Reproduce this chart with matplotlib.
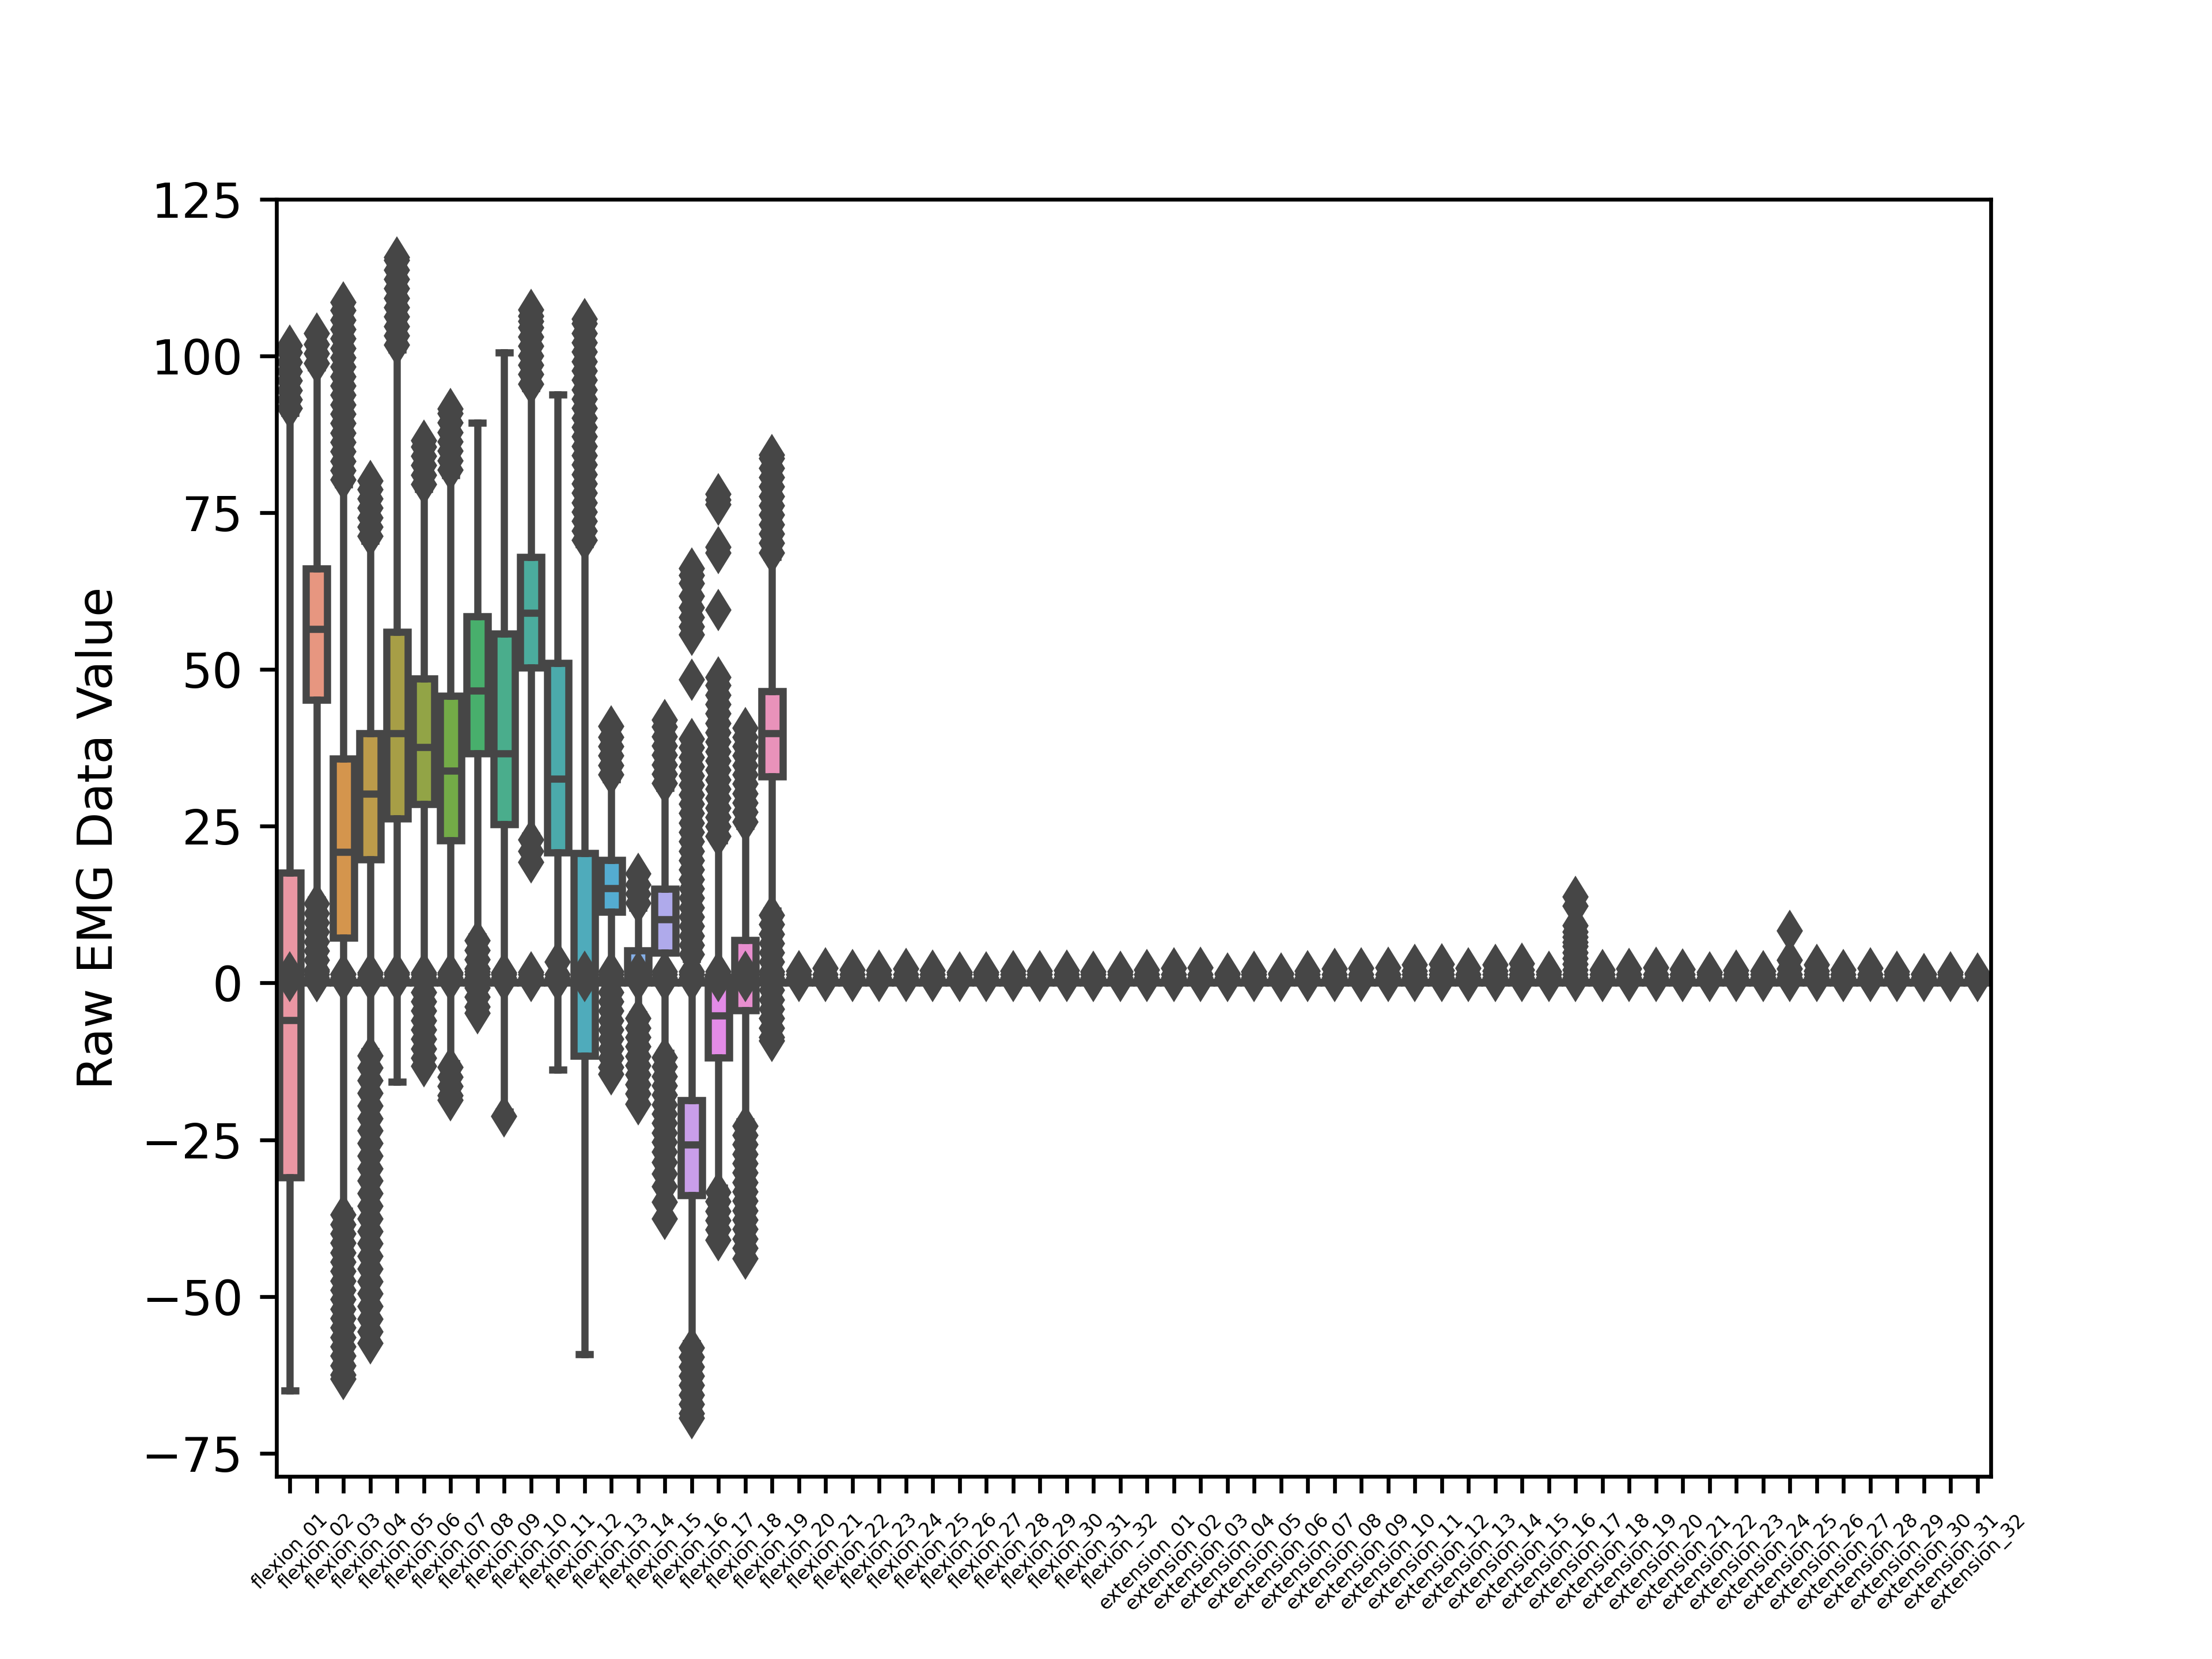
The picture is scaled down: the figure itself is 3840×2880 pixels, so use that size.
import colorsys
import matplotlib
matplotlib.use("Agg")
import matplotlib.pyplot as plt
import seaborn as sns

# ---------------- data ----------------
categories = [f"flexion_{i:02d}" for i in range(1, 33)] + [f"extension_{i:02d}" for i in range(1, 33)]

# Raw EMG layer (first 19 channels)
raw_q1 = [-31.0, 45.1, 7.2, 19.7, 26.2, 28.5, 22.7, 36.6, 25.3, 50.3,
          20.8, -11.6, 11.3, 0.5, 4.8, -33.9, -11.9, -4.4, 32.9]
raw_med = [-5.9, 56.4, 20.9, 30.2, 39.8, 37.6, 33.8, 46.6, 36.6, 59.0,
           32.6, 1.0, 15.1, 2.5, 10.1, -25.8, -5.2, 1.0, 39.8]
raw_q3 = [17.6, 66.1, 35.8, 39.8, 56.0, 48.5, 45.8, 58.5, 55.7, 67.9,
          51.0, 20.7, 19.6, 5.2, 15.0, -18.7, 1.0, 6.8, 46.5]
raw_lo = [-65.0, 13.3, -36.3, -10.9, -15.8, -0.8, -12.8, 7.4, -20.5, 23.5,
          -13.8, -59.2, 0.5, -5.0, -11.2, -57.5, -32.7, -22.1, 11.5]
raw_hi = [90.9, 98.1, 79.5, 70.5, 101.0, 78.8, 81.0, 89.3, 100.5, 94.8,
          93.8, 69.9, 32.5, 12.0, 31.1, 3.8, 22.7, 25.0, 67.9]
raw_fliers = [
    [91.6, 93.0, 94.5, 96.0, 97.5, 99.0, 100.5, 101.6],
    [98.8, 100.3, 101.8, 103.6, 12.6, 11.1, 9.6, 8.1, 6.6, 5.1, 3.6, 2.1, 0.3],
    [80.2, 81.7, 83.2, 84.7, 86.2, 87.7, 89.2, 90.7, 92.2, 93.7, 95.2, 96.7, 98.2,
     99.7, 101.2, 102.7, 104.2, 105.7, 107.2, 108.5,
     -37.0, -38.5, -40.0, -41.5, -43.0, -44.5, -46.0, -47.5, -49.0, -50.5, -52.0,
     -53.5, -55.0, -56.5, -58.0, -59.5, -61.0, -62.5, -63.2],
    [71.2, 72.7, 74.2, 75.7, 77.2, 78.7, 80.0,
     -11.6, -13.6, -15.6, -17.6, -19.6, -21.6, -23.6, -25.6, -27.6, -29.6, -31.6,
     -33.6, -35.6, -37.6, -39.6, -41.6, -43.6, -45.6, -47.6, -49.6, -51.6, -53.6,
     -55.6, -57.5],
    [101.7, 103.2, 104.7, 106.2, 107.7, 109.2, 110.7, 112.2, 113.7, 115.2, 115.7],
    [79.5, 81.0, 82.5, 84.0, 85.5, 86.5,
     -1.5, -3.0, -4.5, -6.0, -7.5, -9.0, -10.5, -12.0, -13.3],
    [81.8, 83.3, 84.8, 86.3, 87.8, 89.3, 90.8, 91.5, -13.5, -15.0, -16.5, -18.0, -18.7],
    [6.7, 5.2, 3.7, 2.2, 0.7, -0.8, -2.3, -3.8, -4.8],
    [-21.3],
    [95.5, 97.0, 98.5, 100.0, 101.5, 103.0, 104.5, 105.5, 106.3, 107.3, 22.8, 21.0, 19.2],
    [],
    [70.6, 72.1, 73.6, 75.1, 76.6, 78.1, 79.6, 81.1, 82.6, 84.1, 85.6, 87.1, 88.6,
     90.1, 91.6, 93.1, 94.6, 96.1, 97.6, 99.1, 100.6, 102.1, 103.6, 105.1, 105.9],
    [33.2, 34.7, 36.2, 37.7, 39.2, 40.9,
     -1.5, -3.0, -4.5, -6.0, -7.5, -9.0, -10.5, -12.0, -13.5, -14.6],
    [12.7, 14.2, 15.7, 17.4, -5.7, -7.2, -8.7, -10.2, -11.7, -13.2, -14.7, -16.2, -17.7, -19.3],
    [31.8, 33.3, 34.8, 36.3, 37.8, 39.3, 40.8, 41.9,
     -11.9, -13.4, -14.9, -16.4, -17.9, -19.4, -20.9, -22.4, -23.9, -25.4, -27.0,
     -28.6, -30.5, -32.5, -35.0, -37.6],
    [4.5, 6.0, 7.5, 9.0, 10.5, 12.0, 13.5, 15.0, 16.5, 18.0, 19.5, 21.0, 22.5, 24.0,
     25.5, 27.0, 28.5, 30.0, 31.5, 33.0, 34.5, 36.0, 37.5, 38.9, 48.4,
     55.5, 56.8, 58.3, 59.8, 61.7, 63.7, 65.0, 66.1,
     -58.2, -59.7, -61.2, -62.7, -64.2, -65.7, -67.2, -68.7, -69.4],
    [23.4, 24.9, 26.4, 27.9, 29.4, 30.9, 32.4, 33.9, 35.4, 36.9, 38.4, 39.9, 41.4,
     42.9, 44.4, 45.9, 47.4, 48.7, 59.5, 68.6, 69.5, 76.3, 77.0, 77.9,
     -33.4, -34.9, -36.4, -37.9, -39.4, -41.0],
    [25.7, 27.2, 28.7, 30.2, 31.7, 33.2, 34.7, 36.2, 37.7, 39.2, 40.6,
     -22.8, -24.3, -25.8, -27.3, -28.8, -30.3, -31.8, -33.3, -34.8, -36.3, -37.8,
     -39.3, -40.8, -42.3, -44.0],
    [68.6, 70.1, 71.6, 73.1, 74.6, 76.1, 77.6, 79.1, 80.6, 82.1, 83.6, 84.2,
     10.8, 9.3, 7.8, 6.3, 4.8, 3.3, 1.8, 0.3, -1.2, -2.7, -4.2, -5.7, -7.2, -8.7, -9.2],
]

# Normalised layer (all 64 channels, values near 0)
near_q1 = [0.05] * 64
near_med = [0.1] * 64
near_q3 = [0.15] * 64
near_low_fliers = [0.3, 0.8, 1.3]
near_top = [1.7, 1.8, 1.4, 1.6, 1.6, 1.6, 1.6, 1.8, 1.6, 1.7,
            3.3, 1.8, 1.8, 1.8, 1.8, 1.8, 1.8, 1.8, 1.8, 1.85,
            2.3, 2.05, 1.95, 2.2, 2.0, 1.65, 1.65, 1.9, 1.9, 2.0,
            1.8, 1.8, 2.05, 2.3, 2.4, 1.55, 1.75, 1.5, 1.9, 2.2,
            2.3, 2.4, 2.9, 3.0, 2.3, 2.85, 3.1, 1.8, 13.7, 2.1,
            2.2, 2.45, 2.15, 1.65, 2.0, 1.85, 8.3, 2.9, 2.1, 2.3,
            1.8, 1.45, 1.7, 1.55]
near_extra = {42: [1.9], 43: [2.0], 45: [1.9], 46: [2.1], 57: [1.9],
              48: [12.3, 9.1, 8.1, 7.3, 6.5, 5.8, 4.8, 3.9, 3.0, 2.1],
              56: [3.6, 2.2]}

# ---------------- styling ----------------
raw_colors = [sns.desaturate(c, 0.75) for c in sns.husl_palette(len(raw_q1), l=0.7)]
near_colors = [sns.desaturate(c, 0.75) for c in sns.husl_palette(len(categories), l=0.7)]
lum = min(colorsys.rgb_to_hls(*c)[1] for c in raw_colors) * 0.6
gray = matplotlib.colors.rgb2hex((lum, lum, lum))
lw = 1.5


def draw_layer(ax, stats, colors):
    art = ax.bxp(stats, positions=list(range(len(stats))), widths=0.8,
                 patch_artist=True, manage_ticks=False,
                 boxprops=dict(edgecolor=gray, linewidth=lw, zorder=0.9),
                 whiskerprops=dict(color=gray, linewidth=lw, linestyle="-"),
                 capprops=dict(color=gray, linewidth=lw),
                 medianprops=dict(color=gray, linewidth=lw),
                 flierprops=dict(marker="d", markerfacecolor=gray,
                                 markeredgecolor=gray, markersize=5,
                                 linestyle="none"))
    for box, c in zip(art["boxes"], colors):
        box.set_facecolor(c)


fig = plt.figure(figsize=(6.4, 4.8), dpi=600)
ax = fig.add_subplot(111)

near_stats = []
for i in range(len(categories)):
    fl = near_low_fliers + [near_top[i]] + near_extra.get(i, [])
    near_stats.append(dict(q1=near_q1[i], med=near_med[i], q3=near_q3[i],
                           whislo=near_q1[i], whishi=near_q3[i], fliers=fl))
draw_layer(ax, near_stats, near_colors)

raw_stats = []
for i in range(len(raw_q1)):
    raw_stats.append(dict(q1=raw_q1[i], med=raw_med[i], q3=raw_q3[i],
                          whislo=raw_lo[i], whishi=raw_hi[i], fliers=raw_fliers[i]))
draw_layer(ax, raw_stats, raw_colors)

ax.set_xlim(-0.5, len(categories) - 0.5)
ax.set_ylim(-78.7, 125.0)
ax.set_yticks([-75, -50, -25, 0, 25, 50, 75, 100, 125])
ax.set_xticks(range(len(categories)))
ax.set_xticklabels(categories, rotation=45, fontsize=4)
ax.set_ylabel("Raw EMG Data Value")

fig.savefig("out.png", dpi=600)
